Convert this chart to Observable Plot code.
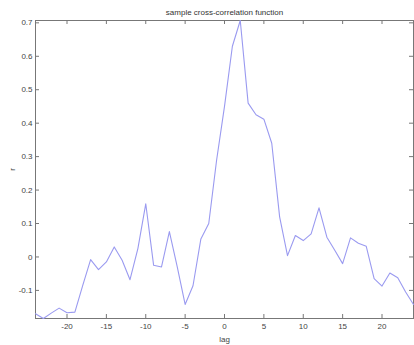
<!DOCTYPE html>
<html>
<head>
<meta charset="utf-8">
<script src="https://cdn.jsdelivr.net/npm/d3@7"></script>
<script src="https://cdn.jsdelivr.net/npm/@observablehq/plot@0.6"></script>
<style>
  html, body { margin: 0; padding: 0; background: #fff; }
  #chart svg { display: block; }
</style>
</head>
<body>
<div id="chart"></div>
<script>
const lags = [-24,-23,-22,-21,-20,-19,-18,-17,-16,-15,-14,-13,-12,-11,-10,-9,-8,-7,-6,-5,-4,-3,-2,-1,0,1,2,3,4,5,6,7,8,9,10,11,12,13,14,15,16,17,18,19,20,21,22,23,24];
const rValues = [-0.170,-0.184,-0.168,-0.153,-0.167,-0.165,-0.085,-0.008,-0.038,-0.015,0.030,-0.010,-0.068,0.025,0.159,-0.025,-0.030,0.076,-0.030,-0.142,-0.086,0.054,0.100,0.290,0.450,0.630,0.707,0.460,0.425,0.412,0.340,0.120,0.004,0.064,0.049,0.069,0.147,0.059,0.020,-0.020,0.057,0.041,0.032,-0.065,-0.087,-0.048,-0.062,-0.105,-0.142];
const xTicks = [-20,-15,-10,-5,0,5,10,15,20];
const yTicks = [-0.1,0,0.1,0.2,0.3,0.4,0.5,0.6,0.7];
const yTickLabels = ["-0.1","0","0.1","0.2","0.3","0.4","0.5","0.6","0.7"];
const title = "sample cross-correlation function";
const xLabel = "lag";
const yLabel = "r";

const data = lags.map((l, i) => ({lag: l, r: rValues[i]}));

const W = 414, H = 345, mt = 20, mb = 27, ml = 35, mr = 1;
const frameH = H - mt - mb, frameW = W - ml - mr;
const tk = 4;
const axisColor = "#777";

const chart = Plot.plot({
  width: W, height: H,
  marginTop: mt, marginBottom: mb, marginLeft: ml, marginRight: mr,
  style: {fontFamily: "'Liberation Sans', Arial, sans-serif", fontSize: "8px", color: "#444", background: "#fff"},
  x: {domain: [-24, 24]},
  y: {domain: [-0.184, 0.707]},
  marks: [
    Plot.frame({stroke: axisColor}),
    Plot.tickX(xTicks, {x: d => d, stroke: axisColor, insetTop: frameH - tk}),
    Plot.tickX(xTicks, {x: d => d, stroke: axisColor, insetBottom: frameH - tk}),
    Plot.tickY(yTicks, {y: d => d, stroke: axisColor, insetRight: frameW - tk}),
    Plot.tickY(yTicks, {y: d => d, stroke: axisColor, insetLeft: frameW - tk}),
    Plot.axisX({ticks: xTicks, tickSize: 0, tickPadding: 5, tickFormat: d => String(d).replace("−","-"), label: xLabel, labelAnchor: "center", labelOffset: 23, labelArrow: "none"}),
    Plot.axisY({ticks: yTicks, tickSize: 0, tickPadding: 3, tickFormat: d => yTickLabels[yTicks.indexOf(d)], label: yLabel, labelAnchor: "center", labelOffset: 26, labelArrow: "none"}),
    Plot.line(data, {x: "lag", y: "r", stroke: "#9a9af0", strokeWidth: 1.1}),
    Plot.text([title], {frameAnchor: "top", text: d => d, dy: -11, fontSize: 8, fill: "#333"})
  ]
});
document.getElementById("chart").appendChild(chart);
</script>
</body>
</html>
